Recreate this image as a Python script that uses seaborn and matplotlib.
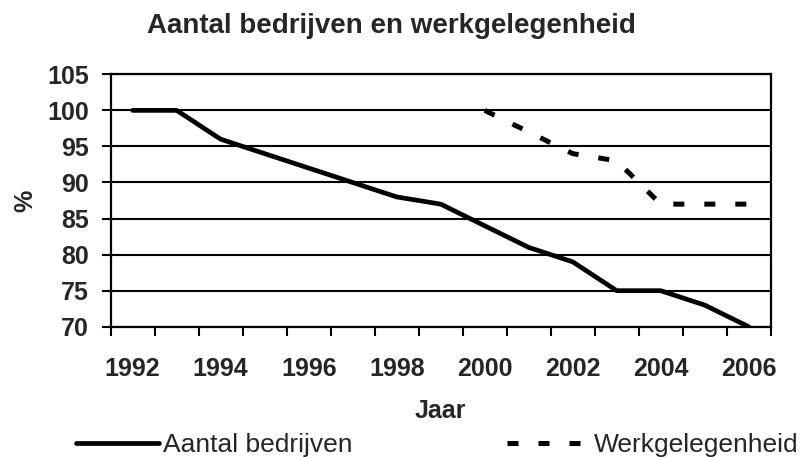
import numpy as np
import pandas as pd
import matplotlib.pyplot as plt
import seaborn as sns
from matplotlib.ticker import MultipleLocator

# data
jaren = list(range(1992, 2007))
aantal_bedrijven = [100, 100, 96, 94, 92, 90, 88, 87, 84, 81, 79, 75, 75, 73, 70]
werk_jaren = [2000, 2001, 2002, 2003, 2004, 2005, 2006]
werkgelegenheid = [100, 97, 94, 93, 87, 87, 87]

df_bedr = pd.DataFrame({'Jaar': jaren, 'waarde': aantal_bedrijven})
df_werk = pd.DataFrame({'Jaar': werk_jaren, 'waarde': werkgelegenheid})

sns.set_style("white")
plt.rcParams['font.family'] = ['Liberation Sans', 'DejaVu Sans']

fig = plt.figure(figsize=(8.02, 4.57), dpi=100)
ax = fig.add_axes([0.138, 0.285, 0.823, 0.5524])

sns.lineplot(data=df_bedr, x='Jaar', y='waarde', ax=ax, color='black',
             linewidth=3.4, label='Aantal bedrijven')
sns.lineplot(data=df_werk, x='Jaar', y='waarde', ax=ax, color='black',
             linewidth=3.6, label='Werkgelegenheid', dashes=False)
ax.lines[1].set_dashes([2.2, 4.0])
ax.lines[1].set_dash_capstyle('butt')

ax.set_xlim(1991.5, 2006.5)
ax.set_ylim(70, 105)
ax.set_yticks(np.arange(70, 106, 5))
ax.set_xticks(jaren[::2])
ax.xaxis.set_minor_locator(MultipleLocator(1, offset=0.5))
ax.tick_params(axis='x', which='major', length=0, pad=22, labelsize=18)
ax.tick_params(axis='x', which='minor', length=6.5, width=1.5, color='black',
               direction='out', bottom=True)
ax.tick_params(axis='y', which='major', length=6.5, width=1.5, color='black',
               direction='out', left=True, pad=9, labelsize=18)
for lbl in ax.get_xticklabels() + ax.get_yticklabels():
    lbl.set_fontweight('bold')

ax.grid(axis='y', color='black', linewidth=1.5)
ax.set_axisbelow(True)
for sp in ax.spines.values():
    sp.set_color('black')
    sp.set_linewidth(1.6)

ax.set_xlabel('Jaar', fontsize=18, fontweight='bold', labelpad=13)
ax.set_ylabel('%', fontsize=18, fontweight='bold', labelpad=7)
fig.text(0.488, 0.928, 'Aantal bedrijven en werkgelegenheid', ha='center',
         va='baseline', fontsize=20, fontweight='bold')

leg = ax.legend(loc='center left', bbox_to_anchor=(-0.0526, -0.4675), ncol=2,
                frameon=False, fontsize=19, columnspacing=5.85,
                handlelength=3.15, handletextpad=0.15, borderpad=0,
                borderaxespad=0)

fig.savefig('out.png', dpi=100)
